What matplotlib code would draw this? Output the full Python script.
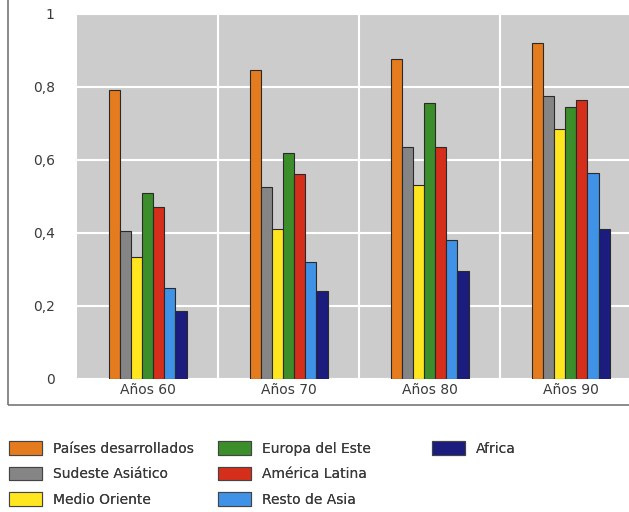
import matplotlib.pyplot as plt
from matplotlib.patches import Patch, Rectangle
import numpy as np

plt.rcParams['font.family'] = ['DejaVu Sans']

decadas = ['Años 60', 'Años 70', 'Años 80', 'Años 90']
regiones = ['Países desarrollados', 'Sudeste Asiático', 'Medio Oriente',
            'Europa del Este', 'América Latina', 'Resto de Asia', 'Africa']
colores = ['#E47B1E', '#858585', '#FFE61E', '#3C8E2A', '#D52E1A', '#3F92E6', '#1B1C7E']

paises_desarrollados = [0.79, 0.845, 0.875, 0.92]
sudeste_asiatico = [0.405, 0.525, 0.635, 0.775]
medio_oriente = [0.335, 0.41, 0.53, 0.685]
europa_este = [0.51, 0.62, 0.755, 0.745]
america_latina = [0.47, 0.56, 0.635, 0.765]
resto_asia = [0.25, 0.32, 0.38, 0.565]
africa = [0.185, 0.24, 0.295, 0.41]

series = [paises_desarrollados, sudeste_asiatico, medio_oriente,
          europa_este, america_latina, resto_asia, africa]

fig = plt.figure(figsize=(6.29, 5.12), dpi=100)
ax = fig.add_axes([0.1224, 0.26, 0.897, 0.713])
ax.set_facecolor('#cccccc')

x = np.arange(len(decadas))
w = 0.079
for i, (vals, col) in enumerate(zip(series, colores)):
    ax.bar(x + (i - 3) * w, vals, w, color=col, edgecolor='#2a2a2a',
           linewidth=0.8, label=regiones[i], zorder=3)

ax.set_xlim(-0.5, 3.5)
ax.set_ylim(0, 1)
ax.set_yticks([0, 0.2, 0.4, 0.6, 0.8, 1])
ax.set_yticklabels(['0', '0,2', '0,4', '0,6', '0,8', '1'])
ax.set_xticks(x)
ax.set_xticklabels(decadas)
ax.set_xticks(x[:-1] + 0.5, minor=True)
ax.grid(axis='y', which='major', color='white', linewidth=1.5, zorder=1)
ax.grid(axis='x', which='minor', color='white', linewidth=1.5, zorder=1)
ax.tick_params(axis='both', which='both', length=0, labelsize=10, colors='#3a3a3a')
ax.tick_params(axis='y', pad=16)
ax.tick_params(axis='x', pad=3)
for s in ax.spines.values():
    s.set_visible(False)

# marco
fig.patches.append(Rectangle((8 / 629, 1 - 405 / 512), 1.2, 1.0,
                             transform=fig.transFigure, fill=False,
                             edgecolor='#777777', linewidth=1.2, clip_on=False))

handles = [Patch(facecolor=c, edgecolor='#444444', linewidth=0.8) for c in colores]
columnas = [(0, 3, 9), (3, 6, 218), (6, 7, 432)]
for a, b, px in columnas:
    leg = fig.legend(handles[a:b], regiones[a:b], loc='upper left',
                     bbox_to_anchor=(px / 629, 1 - 441 / 512), frameon=False,
                     fontsize=10, handlelength=2.35, handleheight=1.15,
                     labelspacing=0.8, handletextpad=0.8, borderpad=0,
                     borderaxespad=0, labelcolor='#3a3a3a')
    fig.add_artist(leg)

fig.savefig('out.png', dpi=100)
